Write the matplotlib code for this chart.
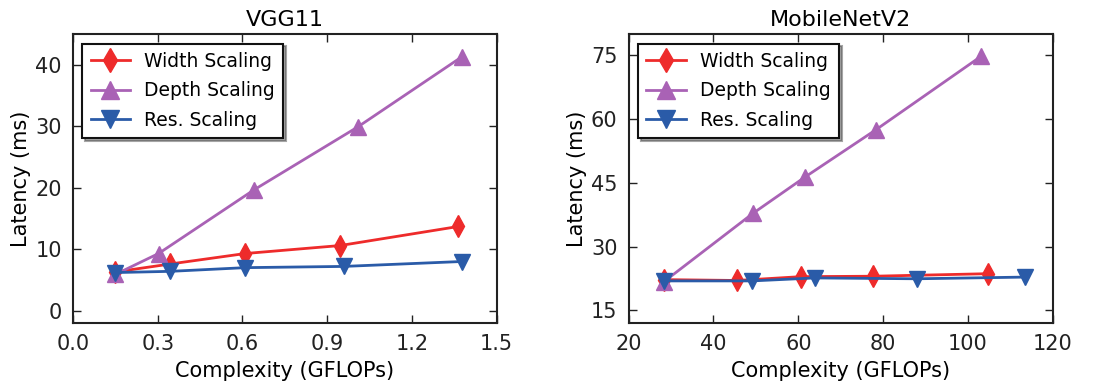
import matplotlib
matplotlib.use('Agg')
import matplotlib.pyplot as plt

# VGG11 latency vs. complexity
vgg_width_x = [0.15, 0.345, 0.61, 0.946, 1.364]
vgg_width_y = [6.3, 7.6, 9.3, 10.6, 13.7]
vgg_depth_x = [0.15, 0.303, 0.642, 1.008, 1.376]
vgg_depth_y = [5.9, 9.3, 19.7, 29.9, 41.3]
vgg_res_x = [0.15, 0.345, 0.61, 0.958, 1.376]
vgg_res_y = [6.2, 6.4, 7.0, 7.2, 8.0]

# MobileNetV2 latency vs. complexity
mb_width_x = [28.3, 45.6, 60.6, 77.6, 104.8]
mb_width_y = [22.2, 22.0, 22.9, 23.0, 23.6]
mb_depth_x = [28.3, 49.3, 61.5, 78.3, 103.1]
mb_depth_y = [21.7, 37.8, 46.3, 57.5, 74.8]
mb_res_x = [28.3, 49.1, 63.9, 87.9, 113.5]
mb_res_y = [21.9, 21.9, 22.6, 22.4, 22.8]

labels = ['Width Scaling', 'Depth Scaling', 'Res. Scaling']
colors = ['#ee2b2b', '#a962b5', '#2a5ba8']
markers = ['d', '^', 'v']

fig = plt.figure(figsize=(10.99, 3.84), dpi=100)
ax1 = fig.add_axes([0.0664, 0.159, 0.3856, 0.752])
ax2 = fig.add_axes([0.572, 0.159, 0.386, 0.752])


def draw(ax, series, title, xlim, ylim, xticks, yticks, xfmt):
    for (x, y), lab, c, m in zip(series, labels, colors, markers):
        ax.plot(x, y, color=c, marker=m, markersize=11, markeredgecolor=c,
                linewidth=2, label=lab)
    ax.set_xlim(*xlim)
    ax.set_ylim(*ylim)
    ax.set_xticks(xticks)
    ax.set_yticks(yticks)
    ax.set_xticklabels([xfmt(t) for t in xticks])
    ax.tick_params(direction='in', top=True, right=True, length=6,
                   width=1, labelsize=15, pad=8, colors='#222222')
    for sp in ax.spines.values():
        sp.set_linewidth(1.5)
        sp.set_color('#222222')
    ax.set_title(title, fontsize=16, pad=6)
    ax.set_xlabel('Complexity (GFLOPs)', fontsize=15, labelpad=5)
    ax.set_ylabel('Latency (ms)', fontsize=15, labelpad=3)
    leg = ax.legend(loc='upper left', numpoints=1, fontsize=13.5, shadow=True,
                    fancybox=False, framealpha=1, edgecolor='#111111',
                    borderaxespad=0.5, handlelength=2.1, labelspacing=0.55,
                    handletextpad=0.75, borderpad=0.45, markerscale=1.15)
    leg.get_frame().set_linewidth(1.5)


draw(ax1, [(vgg_width_x, vgg_width_y), (vgg_depth_x, vgg_depth_y), (vgg_res_x, vgg_res_y)],
     'VGG11', (0, 1.5), (-2, 45), [0.0, 0.3, 0.6, 0.9, 1.2, 1.5], [0, 10, 20, 30, 40],
     lambda t: f'{t:.1f}')
draw(ax2, [(mb_width_x, mb_width_y), (mb_depth_x, mb_depth_y), (mb_res_x, mb_res_y)],
     'MobileNetV2', (20, 120), (12, 80), [20, 40, 60, 80, 100, 120], [15, 30, 45, 60, 75],
     lambda t: f'{t}')

fig.savefig('out.png', dpi=100)
